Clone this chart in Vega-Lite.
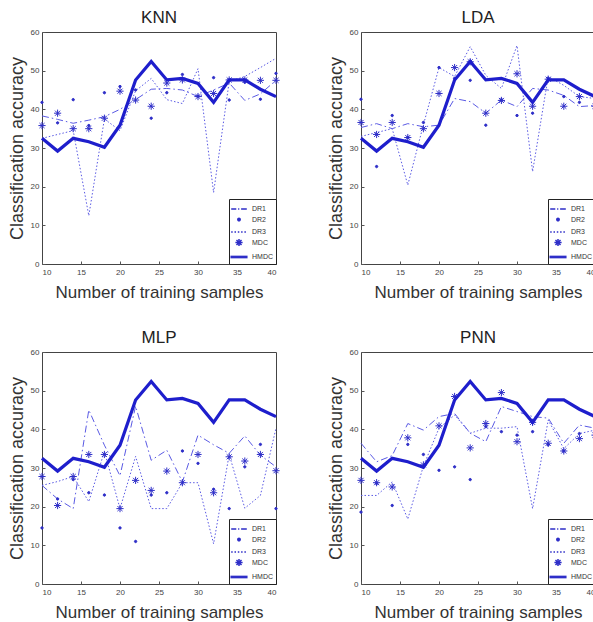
{
  "$schema": "https://vega.github.io/schema/vega-lite/v6.json",
  "background": "white",
  "padding": {"left": 7, "top": 8, "right": 0, "bottom": 0},
  "config": {
    "font": "Liberation Sans",
    "view": {"stroke": "#444", "strokeWidth": 1},
    "axis": {"labelFontSize": 8, "labelColor": "#444", "titleFontSize": 17, "titleFontWeight": "normal", "titleColor": "#333", "grid": false, "domain": false, "ticks": true, "tickSize": -3, "tickColor": "#555", "labelPadding": 6},
    "axisY": {"titleFontSize": 18, "titlePadding": 4},
    "axisX": {"titlePadding": 8, "labelPadding": 7},
    "title": {"fontSize": 17, "fontWeight": "normal", "offset": 1, "color": "#222"},
    "legend": {"orient": "bottom-right", "offset": 0, "padding": 3, "strokeColor": "#222", "fillColor": "white", "labelFontSize": 7, "labelColor": "#333", "symbolSize": 144, "rowPadding": 0.5, "labelOffset": 6, "title": null}
  },
  "resolve": {"scale": {"shape": "independent", "strokeDash": "independent"}, "legend": {"shape": "independent"}},
  "data": {"values": [
    {"c":"KNN","x":10,"DR1":38.3,"DR2":41.8,"DR3":32.5,"MDC":35.8,"HMDC":32.5},
    {"c":"KNN","x":12,"DR1":37.4,"DR2":36.5,"DR3":33.5,"MDC":39.0,"HMDC":29.2},
    {"c":"KNN","x":14,"DR1":36.4,"DR2":42.5,"DR3":34.5,"MDC":35.0,"HMDC":32.5},
    {"c":"KNN","x":16,"DR1":37.2,"DR2":35.8,"DR3":12.5,"MDC":35.0,"HMDC":31.6},
    {"c":"KNN","x":18,"DR1":38.1,"DR2":44.3,"DR3":37.5,"MDC":37.7,"HMDC":30.2},
    {"c":"KNN","x":20,"DR1":40.0,"DR2":45.9,"DR3":34.5,"MDC":44.7,"HMDC":35.9},
    {"c":"KNN","x":22,"DR1":42.5,"DR2":45.0,"DR3":44.8,"MDC":42.4,"HMDC":47.6},
    {"c":"KNN","x":24,"DR1":45.2,"DR2":37.7,"DR3":48.0,"MDC":40.8,"HMDC":52.4},
    {"c":"KNN","x":26,"DR1":45.4,"DR2":44.3,"DR3":42.5,"MDC":46.8,"HMDC":47.6},
    {"c":"KNN","x":28,"DR1":45.0,"DR2":49.0,"DR3":41.5,"MDC":47.6,"HMDC":48.0},
    {"c":"KNN","x":30,"DR1":43.3,"DR2":43.4,"DR3":50.5,"MDC":43.3,"HMDC":46.7},
    {"c":"KNN","x":32,"DR1":45.0,"DR2":48.2,"DR3":18.5,"MDC":44.1,"HMDC":41.8},
    {"c":"KNN","x":34,"DR1":46.8,"DR2":42.4,"DR3":47.2,"MDC":47.6,"HMDC":47.6},
    {"c":"KNN","x":36,"DR1":42.3,"DR2":47.0,"DR3":48.5,"MDC":47.6,"HMDC":47.6},
    {"c":"KNN","x":38,"DR1":44.0,"DR2":42.6,"DR3":50.8,"MDC":47.5,"HMDC":45.2},
    {"c":"KNN","x":40,"DR1":47.5,"DR2":49.3,"DR3":53.2,"MDC":47.5,"HMDC":43.3},
    {"c":"LDA","x":10,"DR1":35.3,"DR2":42.6,"DR3":33.0,"MDC":36.6,"HMDC":32.5},
    {"c":"LDA","x":12,"DR1":36.3,"DR2":25.2,"DR3":34.0,"MDC":33.5,"HMDC":29.2},
    {"c":"LDA","x":14,"DR1":35.0,"DR2":38.4,"DR3":35.0,"MDC":36.6,"HMDC":32.5},
    {"c":"LDA","x":16,"DR1":36.3,"DR2":32.7,"DR3":20.4,"MDC":32.7,"HMDC":31.6},
    {"c":"LDA","x":18,"DR1":35.5,"DR2":36.6,"DR3":36.0,"MDC":35.0,"HMDC":30.2},
    {"c":"LDA","x":20,"DR1":35.9,"DR2":50.8,"DR3":50.8,"MDC":44.1,"HMDC":35.9},
    {"c":"LDA","x":22,"DR1":42.8,"DR2":48.0,"DR3":48.5,"MDC":50.8,"HMDC":47.6},
    {"c":"LDA","x":24,"DR1":42.0,"DR2":47.5,"DR3":56.2,"MDC":52.3,"HMDC":52.4},
    {"c":"LDA","x":26,"DR1":39.0,"DR2":35.9,"DR3":48.8,"MDC":39.0,"HMDC":47.6},
    {"c":"LDA","x":28,"DR1":42.4,"DR2":42.5,"DR3":45.4,"MDC":42.3,"HMDC":48.0},
    {"c":"LDA","x":30,"DR1":40.7,"DR2":38.4,"DR3":56.5,"MDC":49.2,"HMDC":46.7},
    {"c":"LDA","x":32,"DR1":45.4,"DR2":39.0,"DR3":23.9,"MDC":40.8,"HMDC":41.8},
    {"c":"LDA","x":34,"DR1":45.0,"DR2":48.0,"DR3":48.5,"MDC":47.8,"HMDC":47.6},
    {"c":"LDA","x":36,"DR1":43.6,"DR2":43.3,"DR3":46.2,"MDC":40.8,"HMDC":47.6},
    {"c":"LDA","x":38,"DR1":40.7,"DR2":41.8,"DR3":43.3,"MDC":43.3,"HMDC":45.2},
    {"c":"LDA","x":40,"DR1":41.0,"DR2":37.6,"DR3":42.8,"MDC":40.8,"HMDC":43.3},
    {"c":"MLP","x":10,"DR1":25.5,"DR2":14.5,"DR3":25.5,"MDC":27.8,"HMDC":32.5},
    {"c":"MLP","x":12,"DR1":22.0,"DR2":22.0,"DR3":26.5,"MDC":20.3,"HMDC":29.2},
    {"c":"MLP","x":14,"DR1":19.5,"DR2":27.0,"DR3":27.8,"MDC":27.8,"HMDC":32.5},
    {"c":"MLP","x":16,"DR1":45.0,"DR2":23.6,"DR3":21.3,"MDC":33.5,"HMDC":31.6},
    {"c":"MLP","x":18,"DR1":35.9,"DR2":23.0,"DR3":34.3,"MDC":33.5,"HMDC":30.2},
    {"c":"MLP","x":20,"DR1":28.0,"DR2":14.5,"DR3":19.5,"MDC":19.5,"HMDC":35.9},
    {"c":"MLP","x":22,"DR1":46.0,"DR2":11.0,"DR3":33.0,"MDC":26.8,"HMDC":47.6},
    {"c":"MLP","x":24,"DR1":32.0,"DR2":23.0,"DR3":19.5,"MDC":24.2,"HMDC":52.4},
    {"c":"MLP","x":26,"DR1":34.6,"DR2":23.6,"DR3":19.5,"MDC":29.2,"HMDC":47.6},
    {"c":"MLP","x":28,"DR1":26.4,"DR2":34.4,"DR3":26.2,"MDC":26.2,"HMDC":48.0},
    {"c":"MLP","x":30,"DR1":38.5,"DR2":31.2,"DR3":26.2,"MDC":33.5,"HMDC":46.7},
    {"c":"MLP","x":32,"DR1":36.0,"DR2":24.5,"DR3":10.4,"MDC":23.6,"HMDC":41.8},
    {"c":"MLP","x":34,"DR1":33.8,"DR2":19.5,"DR3":33.5,"MDC":32.9,"HMDC":47.6},
    {"c":"MLP","x":36,"DR1":38.3,"DR2":30.3,"DR3":19.6,"MDC":31.8,"HMDC":47.6},
    {"c":"MLP","x":38,"DR1":33.3,"DR2":36.1,"DR3":22.9,"MDC":33.5,"HMDC":45.2},
    {"c":"MLP","x":40,"DR1":30.3,"DR2":19.5,"DR3":40.3,"MDC":29.3,"HMDC":43.3},
    {"c":"PNN","x":10,"DR1":36.4,"DR2":18.6,"DR3":22.9,"MDC":26.8,"HMDC":32.5},
    {"c":"PNN","x":12,"DR1":31.6,"DR2":26.0,"DR3":22.9,"MDC":26.2,"HMDC":29.2},
    {"c":"PNN","x":14,"DR1":33.2,"DR2":20.3,"DR3":26.4,"MDC":25.1,"HMDC":32.5},
    {"c":"PNN","x":16,"DR1":41.5,"DR2":36.1,"DR3":16.8,"MDC":37.8,"HMDC":31.6},
    {"c":"PNN","x":18,"DR1":39.8,"DR2":33.5,"DR3":30.5,"MDC":30.8,"HMDC":30.2},
    {"c":"PNN","x":20,"DR1":43.3,"DR2":29.4,"DR3":40.3,"MDC":40.9,"HMDC":35.9},
    {"c":"PNN","x":22,"DR1":44.1,"DR2":30.3,"DR3":43.7,"MDC":48.5,"HMDC":47.6},
    {"c":"PNN","x":24,"DR1":39.0,"DR2":27.0,"DR3":39.0,"MDC":35.2,"HMDC":52.4},
    {"c":"PNN","x":26,"DR1":36.8,"DR2":40.7,"DR3":40.3,"MDC":41.5,"HMDC":47.6},
    {"c":"PNN","x":28,"DR1":45.9,"DR2":39.4,"DR3":40.3,"MDC":49.5,"HMDC":48.0},
    {"c":"PNN","x":30,"DR1":44.6,"DR2":38.5,"DR3":40.7,"MDC":36.8,"HMDC":46.7},
    {"c":"PNN","x":32,"DR1":43.3,"DR2":39.4,"DR3":19.5,"MDC":41.8,"HMDC":41.8},
    {"c":"PNN","x":34,"DR1":42.9,"DR2":36.0,"DR3":42.4,"MDC":36.4,"HMDC":47.6},
    {"c":"PNN","x":36,"DR1":36.4,"DR2":34.4,"DR3":35.0,"MDC":34.4,"HMDC":47.6},
    {"c":"PNN","x":38,"DR1":41.1,"DR2":38.9,"DR3":38.9,"MDC":37.6,"HMDC":45.2},
    {"c":"PNN","x":40,"DR1":40.3,"DR2":39.8,"DR3":39.8,"MDC":38.5,"HMDC":43.3}
  ]},
  "columns": 2,
  "spacing": {"row": 27, "column": 43},
  "concat": [
    {"title": "KNN", "width": 234, "height": 232,
     "transform": [{"filter": "datum.c === 'KNN'"}, {"fold": ["DR1","DR2","DR3","MDC","HMDC"], "as": ["series","acc"]}],
     "encoding": {
       "x": {"field": "x", "type": "quantitative", "scale": {"domain": [10,40], "nice": false}, "axis": {"values": [10,15,20,25,30,35,40], "title": "Number of training samples"}},
       "y": {"field": "acc", "type": "quantitative", "scale": {"domain": [0,60], "nice": false}, "axis": {"values": [0,10,20,30,40,50,60], "title": "Classification accuracy"}}
     },
     "layer": [
       {"transform": [{"filter": "datum.series === 'DR1' || datum.series === 'DR3'"}], "mark": {"type": "line", "color": "#5a5ae4", "strokeWidth": 1}, "encoding": {"strokeDash": {"field": "series", "type": "nominal", "scale": {"domain": ["DR1","DR3"], "range": [[7,3,1.5,3],[1.5,2]]}, "legend": null}}},
       {"transform": [{"filter": "datum.series === 'DR2' || datum.series === 'MDC'"}], "mark": {"type": "point", "filled": true, "fill": "#2e2ec8", "stroke": "#2e2ec8", "strokeWidth": 1, "size": 144, "opacity": 1},
        "encoding": {"shape": {"field": "series", "type": "nominal", "scale": {"domain": ["DR1","DR2","DR3","MDC","HMDC"], "range": ["M-1.3,0H-0.45M-0.15,0H0.05M0.35,0H1.3", "M-0.2,0A0.2,0.2,0,1,1,0.2,0A0.2,0.2,0,1,1,-0.2,0Z", "M-1.3,0H-1.05M-0.75,0H-0.5M-0.2,0H0.05M0.35,0H0.6M0.9,0H1.15", "M-0.6,0H0.6M0,-0.6V0.6M-0.42,-0.42L0.42,0.42M-0.42,0.42L0.42,-0.42", "M-1.3,-0.1H1.3V0.1H-1.3Z"]}, "legend": {"orient": "bottom-right"}}}},
       {"transform": [{"filter": "datum.series === 'HMDC'"}], "mark": {"type": "line", "color": "#1e1ecc", "strokeWidth": 3.2}, "encoding": {}}
     ]},
    {"title": "LDA", "width": 234, "height": 232,
     "transform": [{"filter": "datum.c === 'LDA'"}, {"fold": ["DR1","DR2","DR3","MDC","HMDC"], "as": ["series","acc"]}],
     "encoding": {
       "x": {"field": "x", "type": "quantitative", "scale": {"domain": [10,40], "nice": false}, "axis": {"values": [10,15,20,25,30,35,40], "title": "Number of training samples"}},
       "y": {"field": "acc", "type": "quantitative", "scale": {"domain": [0,60], "nice": false}, "axis": {"values": [0,10,20,30,40,50,60], "title": "Classification accuracy"}}
     },
     "layer": [
       {"transform": [{"filter": "datum.series === 'DR1' || datum.series === 'DR3'"}], "mark": {"type": "line", "color": "#5a5ae4", "strokeWidth": 1}, "encoding": {"strokeDash": {"field": "series", "type": "nominal", "scale": {"domain": ["DR1","DR3"], "range": [[7,3,1.5,3],[1.5,2]]}, "legend": null}}},
       {"transform": [{"filter": "datum.series === 'DR2' || datum.series === 'MDC'"}], "mark": {"type": "point", "filled": true, "fill": "#2e2ec8", "stroke": "#2e2ec8", "strokeWidth": 1, "size": 144, "opacity": 1},
        "encoding": {"shape": {"field": "series", "type": "nominal", "scale": {"domain": ["DR1","DR2","DR3","MDC","HMDC"], "range": ["M-1.3,0H-0.45M-0.15,0H0.05M0.35,0H1.3", "M-0.2,0A0.2,0.2,0,1,1,0.2,0A0.2,0.2,0,1,1,-0.2,0Z", "M-1.3,0H-1.05M-0.75,0H-0.5M-0.2,0H0.05M0.35,0H0.6M0.9,0H1.15", "M-0.6,0H0.6M0,-0.6V0.6M-0.42,-0.42L0.42,0.42M-0.42,0.42L0.42,-0.42", "M-1.3,-0.1H1.3V0.1H-1.3Z"]}, "legend": {"orient": "bottom-right"}}}},
       {"transform": [{"filter": "datum.series === 'HMDC'"}], "mark": {"type": "line", "color": "#1e1ecc", "strokeWidth": 3.2}, "encoding": {}}
     ]},
    {"title": "MLP", "width": 234, "height": 232,
     "transform": [{"filter": "datum.c === 'MLP'"}, {"fold": ["DR1","DR2","DR3","MDC","HMDC"], "as": ["series","acc"]}],
     "encoding": {
       "x": {"field": "x", "type": "quantitative", "scale": {"domain": [10,40], "nice": false}, "axis": {"values": [10,15,20,25,30,35,40], "title": "Number of training samples"}},
       "y": {"field": "acc", "type": "quantitative", "scale": {"domain": [0,60], "nice": false}, "axis": {"values": [0,10,20,30,40,50,60], "title": "Classification accuracy"}}
     },
     "layer": [
       {"transform": [{"filter": "datum.series === 'DR1' || datum.series === 'DR3'"}], "mark": {"type": "line", "color": "#5a5ae4", "strokeWidth": 1}, "encoding": {"strokeDash": {"field": "series", "type": "nominal", "scale": {"domain": ["DR1","DR3"], "range": [[7,3,1.5,3],[1.5,2]]}, "legend": null}}},
       {"transform": [{"filter": "datum.series === 'DR2' || datum.series === 'MDC'"}], "mark": {"type": "point", "filled": true, "fill": "#2e2ec8", "stroke": "#2e2ec8", "strokeWidth": 1, "size": 144, "opacity": 1},
        "encoding": {"shape": {"field": "series", "type": "nominal", "scale": {"domain": ["DR1","DR2","DR3","MDC","HMDC"], "range": ["M-1.3,0H-0.45M-0.15,0H0.05M0.35,0H1.3", "M-0.2,0A0.2,0.2,0,1,1,0.2,0A0.2,0.2,0,1,1,-0.2,0Z", "M-1.3,0H-1.05M-0.75,0H-0.5M-0.2,0H0.05M0.35,0H0.6M0.9,0H1.15", "M-0.6,0H0.6M0,-0.6V0.6M-0.42,-0.42L0.42,0.42M-0.42,0.42L0.42,-0.42", "M-1.3,-0.1H1.3V0.1H-1.3Z"]}, "legend": {"orient": "bottom-right"}}}},
       {"transform": [{"filter": "datum.series === 'HMDC'"}], "mark": {"type": "line", "color": "#1e1ecc", "strokeWidth": 3.2}, "encoding": {}}
     ]},
    {"title": "PNN", "width": 234, "height": 232,
     "transform": [{"filter": "datum.c === 'PNN'"}, {"fold": ["DR1","DR2","DR3","MDC","HMDC"], "as": ["series","acc"]}],
     "encoding": {
       "x": {"field": "x", "type": "quantitative", "scale": {"domain": [10,40], "nice": false}, "axis": {"values": [10,15,20,25,30,35,40], "title": "Number of training samples"}},
       "y": {"field": "acc", "type": "quantitative", "scale": {"domain": [0,60], "nice": false}, "axis": {"values": [0,10,20,30,40,50,60], "title": "Classification accuracy"}}
     },
     "layer": [
       {"transform": [{"filter": "datum.series === 'DR1' || datum.series === 'DR3'"}], "mark": {"type": "line", "color": "#5a5ae4", "strokeWidth": 1}, "encoding": {"strokeDash": {"field": "series", "type": "nominal", "scale": {"domain": ["DR1","DR3"], "range": [[7,3,1.5,3],[1.5,2]]}, "legend": null}}},
       {"transform": [{"filter": "datum.series === 'DR2' || datum.series === 'MDC'"}], "mark": {"type": "point", "filled": true, "fill": "#2e2ec8", "stroke": "#2e2ec8", "strokeWidth": 1, "size": 144, "opacity": 1},
        "encoding": {"shape": {"field": "series", "type": "nominal", "scale": {"domain": ["DR1","DR2","DR3","MDC","HMDC"], "range": ["M-1.3,0H-0.45M-0.15,0H0.05M0.35,0H1.3", "M-0.2,0A0.2,0.2,0,1,1,0.2,0A0.2,0.2,0,1,1,-0.2,0Z", "M-1.3,0H-1.05M-0.75,0H-0.5M-0.2,0H0.05M0.35,0H0.6M0.9,0H1.15", "M-0.6,0H0.6M0,-0.6V0.6M-0.42,-0.42L0.42,0.42M-0.42,0.42L0.42,-0.42", "M-1.3,-0.1H1.3V0.1H-1.3Z"]}, "legend": {"orient": "bottom-right"}}}},
       {"transform": [{"filter": "datum.series === 'HMDC'"}], "mark": {"type": "line", "color": "#1e1ecc", "strokeWidth": 3.2}, "encoding": {}}
     ]}
  ]
}
